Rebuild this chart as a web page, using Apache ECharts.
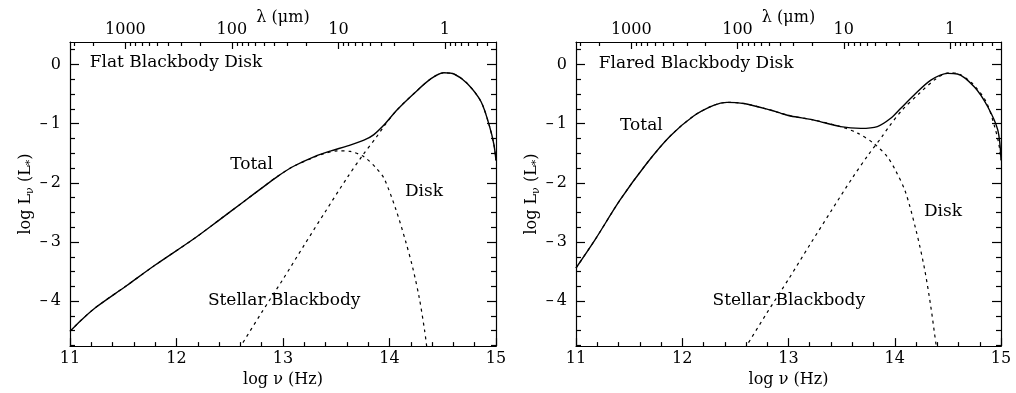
<!DOCTYPE html>
<html>
<head>
<meta charset="utf-8">
<script src="https://cdn.jsdelivr.net/npm/echarts@6/dist/echarts.min.js"></script>
<style>
  html, body { margin: 0; padding: 0; background: #fff; }
  #chart { width: 1016px; height: 393px; }
</style>
</head>
<body>
<div id="chart"></div>
<script>
// Spectral energy distributions: [log nu (Hz), log L_nu (L*)]
const flatTotal = [
  [11.0, -4.51], [11.1, -4.33], [11.235, -4.115], [11.53, -3.74], [11.8, -3.39],
  [12.16, -2.95], [12.4, -2.63], [12.63, -2.32], [12.8, -2.09], [12.95, -1.89],
  [13.1, -1.72], [13.29, -1.56], [13.45, -1.46], [13.6, -1.38], [13.76, -1.28],
  [13.85, -1.19], [13.95, -1.02], [14.07, -0.77], [14.23, -0.49], [14.39, -0.24],
  [14.51, -0.14], [14.61, -0.165], [14.73, -0.32], [14.86, -0.63], [14.94, -1.05],
  [14.98, -1.35], [15.0, -1.62]
];
const flatDisk = [
  [11.0, -4.51], [11.1, -4.33], [11.235, -4.115], [11.53, -3.74], [11.8, -3.39],
  [12.16, -2.95], [12.4, -2.63], [12.63, -2.32], [12.8, -2.09], [12.95, -1.89],
  [13.1, -1.72], [13.29, -1.57], [13.38, -1.51], [13.51, -1.46], [13.63, -1.47],
  [13.76, -1.56], [13.88, -1.76], [13.95, -1.93], [14.06, -2.45], [14.15, -2.98],
  [14.22, -3.45], [14.28, -3.95], [14.33, -4.5], [14.355, -4.85]
];
const stellarBlackbody = [
  [12.59, -4.8], [12.8, -4.19], [13.0, -3.63], [13.2, -3.05], [13.4, -2.48],
  [13.6, -1.92], [13.75, -1.53], [13.88, -1.22], [13.95, -1.04], [14.07, -0.77],
  [14.23, -0.49], [14.39, -0.24], [14.51, -0.14], [14.61, -0.165], [14.73, -0.32],
  [14.86, -0.63], [14.94, -1.05], [14.98, -1.35], [15.0, -1.62]
];
const flaredTotal = [
  [11.0, -3.44], [11.18, -2.96], [11.415, -2.29], [11.667, -1.67], [11.887, -1.21],
  [12.107, -0.87], [12.295, -0.69], [12.42, -0.64], [12.58, -0.66], [12.83, -0.77],
  [12.93, -0.826], [13.02, -0.87], [13.24, -0.94], [13.49, -1.05], [13.68, -1.08],
  [13.836, -1.05], [13.962, -0.91], [14.057, -0.74], [14.18, -0.52], [14.34, -0.265],
  [14.497, -0.15], [14.59, -0.16], [14.75, -0.38], [14.874, -0.71], [14.97, -1.11],
  [15.0, -1.6]
];
const flaredDisk = [
  [11.0, -3.44], [11.18, -2.96], [11.415, -2.29], [11.667, -1.67], [11.887, -1.21],
  [12.107, -0.87], [12.295, -0.69], [12.42, -0.64], [12.58, -0.66], [12.83, -0.77],
  [12.93, -0.826], [13.02, -0.87], [13.24, -0.94], [13.49, -1.05], [13.65, -1.16],
  [13.8, -1.33], [13.93, -1.56], [14.01, -1.8], [14.1, -2.15], [14.2, -2.8],
  [14.28, -3.45], [14.34, -4.1], [14.39, -4.75], [14.4, -4.85]
];

// Tick labels
const nuTicks = [11, 12, 13, 14, 15];
const logLTicks = [-4, -3, -2, -1, 0];
const lambdaMajor = [1000, 100, 10, 1];
const lambdaMinor = [3000, 2000, 900, 800, 700, 600, 500, 400, 300, 200,
  90, 80, 70, 60, 50, 40, 30, 20, 9, 8, 7, 6, 5, 4, 3, 2, 0.9, 0.8, 0.7, 0.6, 0.5, 0.4];

// Panel titles and curve captions
const panelTitles = ['Flat Blackbody Disk', 'Flared Blackbody Disk'];
const captionTexts = ['Total', 'Disk', 'Stellar Blackbody'];

// Caption anchors (left edge, vertical middle) in data units for each panel
const titleAnchors = [[11.18, 0.04], [11.21, 0.02]];
const captionAnchors = [
  [[12.5, -1.69], [14.14, -2.15], [12.29, -3.99]],
  [[11.41, -1.03], [14.27, -2.49], [12.28, -3.99]]
];

// log nu of a wavelength in microns (top axis)
const LOG_NU_AT_1UM = 14.52;
const lambdaToLogNu = l => LOG_NU_AT_1UM - Math.log10(l);

const FONT = 'DejaVu Serif';
const INK = '#000';
const X_MIN = 11, X_MAX = 15, Y_MIN = -4.76, Y_MAX = 0.38;

const grids = [
  { left: 70, top: 42, width: 426, height: 305 },
  { left: 576, top: 42, width: 425, height: 305 }
];

const textStyle = { fontFamily: FONT, fontSize: 16, color: INK };
const captionStyle = { fontFamily: FONT, fontSize: 17, color: INK, opacity: 1 };
const line = { color: INK, width: 1.2 };

const xAxes = [], yAxes = [], series = [];

const majorLambdaPos = lambdaMajor.map(lambdaToLogNu);
const minorLambdaPos = lambdaMinor.map(lambdaToLogNu).filter(v => v > X_MIN && v < X_MAX);
const lambdaLabel = v => {
  const i = majorLambdaPos.findIndex(p => Math.abs(p - v) < 1e-6);
  return i >= 0 ? String(lambdaMajor[i]) : '';
};

const panels = [
  { total: flatTotal, disk: flatDisk },
  { total: flaredTotal, disk: flaredDisk }
];

panels.forEach((p, g) => {
  const xBase = xAxes.length, yBase = yAxes.length;
  // bottom: log nu
  xAxes.push({
    gridIndex: g, type: 'value', min: X_MIN, max: X_MAX, interval: 1, position: 'bottom',
    axisLine: { show: true, onZero: false, lineStyle: line },
    axisTick: { show: true, inside: true, length: 8, lineStyle: line },
    minorTick: { show: true, splitNumber: 5, length: 4, lineStyle: line },
    splitLine: { show: false },
    axisLabel: { ...textStyle, margin: 5, formatter: v => nuTicks.includes(v) ? String(v) : '' },
    name: 'log \u03bd (Hz)', nameLocation: 'middle', nameGap: 24, nameTextStyle: { ...textStyle }
  });
  // top: wavelength, decades
  xAxes.push({
    gridIndex: g, type: 'value', min: X_MIN, max: X_MAX, position: 'top',
    axisLine: { show: true, onZero: false, lineStyle: line },
    axisTick: { show: true, inside: true, length: 7, lineStyle: line, customValues: majorLambdaPos },
    splitLine: { show: false },
    axisLabel: { ...textStyle, margin: 4, customValues: majorLambdaPos, formatter: lambdaLabel },
    name: '\u03bb (\u03bcm)', nameLocation: 'middle', nameGap: 16, nameMoveOverlap: false,
    nameTextStyle: { ...textStyle }
  });
  // top: wavelength, intermediate ticks
  xAxes.push({
    gridIndex: g, type: 'value', min: X_MIN, max: X_MAX, position: 'top',
    axisLine: { show: false, onZero: false },
    axisTick: { show: true, inside: true, length: 4, lineStyle: line, customValues: minorLambdaPos },
    splitLine: { show: false },
    axisLabel: { show: false }
  });
  // left: log L
  yAxes.push({
    gridIndex: g, type: 'value', min: Y_MIN, max: Y_MAX, position: 'left',
    axisLine: { show: true, onZero: false, lineStyle: line },
    axisTick: { show: true, inside: true, length: 9, lineStyle: line, customValues: logLTicks },
    minorTick: { show: true, splitNumber: 4, length: 5, lineStyle: line },
    splitLine: { show: false },
    axisLabel: {
      ...textStyle, margin: 9, customValues: logLTicks,
      formatter: v => v === 0 ? '0' : '\u2013\u2009' + Math.abs(v)
    },
    name: '{a|log L}{s|\u03bd}{a| (L}{s|*}{a|)}',
    nameLocation: 'middle', nameGap: 33, nameRotate: 90,
    nameTextStyle: {
      ...textStyle,
      rich: {
        a: { fontFamily: FONT, fontSize: 16, color: INK, lineHeight: 20 },
        s: { fontFamily: FONT, fontSize: 11, color: INK, lineHeight: 11, verticalAlign: 'bottom' }
      }
    }
  });
  // right: mirrored ticks
  yAxes.push({
    gridIndex: g, type: 'value', min: Y_MIN, max: Y_MAX, position: 'right',
    axisLine: { show: true, onZero: false, lineStyle: line },
    axisTick: { show: true, inside: true, length: 9, lineStyle: line, customValues: logLTicks },
    minorTick: { show: true, splitNumber: 4, length: 5, lineStyle: line },
    splitLine: { show: false },
    axisLabel: { show: false }
  });

  const common = {
    type: 'line', xAxisIndex: xBase, yAxisIndex: yBase, showSymbol: false,
    smooth: 0.3, clip: true, silent: true, animation: false
  };
  series.push({ ...common, name: 'Disk', data: p.disk, z: 2,
    lineStyle: { color: INK, width: 1.2, type: [3, 4] } });
  series.push({ ...common, name: 'Stellar Blackbody', data: stellarBlackbody, z: 2,
    lineStyle: { color: INK, width: 1.2, type: [3, 4] } });
  series.push({ ...common, name: 'Total', data: p.total, z: 3,
    lineStyle: { color: INK, width: 1.4 } });

  // panel title and curve captions
  const captions = [{ name: panelTitles[g], value: titleAnchors[g] }]
    .concat(captionTexts.map((t, i) => ({ name: t, value: captionAnchors[g][i] })));
  series.push({
    type: 'scatter', xAxisIndex: xBase, yAxisIndex: yBase, silent: true, animation: false,
    symbolSize: 1, itemStyle: { color: 'rgba(0,0,0,0)', opacity: 1 }, z: 5,
    label: { show: true, position: 'right', distance: 0, formatter: d => d.name, ...captionStyle },
    data: captions
  });
});

const chart = echarts.init(document.getElementById('chart'), null, { renderer: 'canvas' });
chart.setOption({
  backgroundColor: '#fff',
  animation: false,
  grid: grids,
  xAxis: xAxes,
  yAxis: yAxes,
  series: series
});
</script>
</body>
</html>
